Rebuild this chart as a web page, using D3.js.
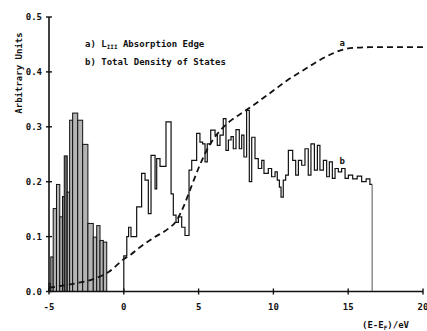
<!DOCTYPE html>
<html>
<head>
<meta charset="utf-8">
<script src="https://cdn.jsdelivr.net/npm/d3@7"></script>
<style>
  body { margin: 0; background: #fff; }
  text { font-family: "DejaVu Sans Mono", monospace; font-weight: bold; fill: #111; }
</style>
</head>
<body>
<div id="chart"></div>
<script>
// curve a: L_III absorption edge (dashed)
var edgeE = [-5, -4, -3, -2, -1, 0, 0.5, 1, 2, 3, 3.5, 4, 4.5, 5, 5.5, 6, 6.5, 7, 8, 9, 10, 11, 12, 13, 14, 14.7, 15.5, 16.5, 20];
var edgeV = [0.007, 0.011, 0.016, 0.023, 0.036, 0.059, 0.068, 0.079, 0.098, 0.115, 0.128, 0.155, 0.19, 0.225, 0.255, 0.278, 0.295, 0.308, 0.327, 0.346, 0.366, 0.386, 0.403, 0.42, 0.434, 0.441, 0.444, 0.445, 0.445];

// curve b, occupied part: filled bars (edges + heights)
var barEdges = [-5.0, -4.88, -4.72, -4.50, -4.28, -4.10, -3.98, -3.78, -3.62, -3.42, -3.08, -2.75, -2.40, -2.04, -1.81, -1.59, -1.37, -1.14];
var barHeights = [0.015, 0.063, 0.151, 0.195, 0.136, 0.173, 0.247, 0.181, 0.312, 0.325, 0.312, 0.268, 0.124, 0.099, 0.12, 0.093, 0.09];
var darkBar = 6;

// curve b, unoccupied part: step outline (step start energy + value)
var dosE = [0, 0.2, 0.32, 0.48, 0.86, 1.19, 1.42, 1.64, 1.82, 2.09, 2.20, 2.42, 2.82, 3.16, 3.31, 3.49, 3.65, 3.87, 4.09, 4.36, 4.54, 4.87, 5.09, 5.27, 5.43, 5.58, 5.81, 6.10, 6.25, 6.43, 6.65, 6.83, 6.99, 7.17, 7.32, 7.50, 7.72, 7.88, 8.03, 8.21, 8.39, 8.55, 8.77, 8.99, 9.22, 9.37, 9.66, 9.88, 10.11, 10.26, 10.40, 10.51, 10.66, 10.82, 11.0, 11.29, 11.49, 11.67, 11.89, 12.11, 12.33, 12.51, 12.74, 12.94, 13.11, 13.34, 13.56, 13.74, 13.94, 14.12, 14.34, 14.56, 14.79, 15.01, 15.3, 15.6, 15.9, 16.2, 16.45];
var dosV = [0.065, 0.10, 0.117, 0.10, 0.154, 0.215, 0.203, 0.142, 0.248, 0.187, 0.242, 0.228, 0.309, 0.178, 0.139, 0.126, 0.136, 0.117, 0.102, 0.221, 0.239, 0.288, 0.272, 0.269, 0.236, 0.269, 0.294, 0.285, 0.266, 0.285, 0.315, 0.257, 0.276, 0.282, 0.260, 0.295, 0.260, 0.285, 0.245, 0.330, 0.200, 0.281, 0.242, 0.224, 0.239, 0.215, 0.224, 0.209, 0.218, 0.203, 0.190, 0.172, 0.203, 0.212, 0.257, 0.239, 0.212, 0.239, 0.230, 0.260, 0.212, 0.269, 0.221, 0.266, 0.221, 0.239, 0.209, 0.236, 0.206, 0.224, 0.218, 0.224, 0.206, 0.212, 0.205, 0.21, 0.20, 0.205, 0.195];
var dosEnd = 16.6;

var xTicks = [-5, 0, 5, 10, 15, 20];
var yTicks = [0.0, 0.1, 0.2, 0.3, 0.4, 0.5];

var margin = {top: 17, right: 4, bottom: 39.5, left: 49},
    width = 427 - margin.left - margin.right,
    height = 331 - margin.top - margin.bottom;

var svg = d3.select("#chart")
    .append("svg")
    .attr("width", 427)
    .attr("height", 331)
    .append("g")
    .attr("transform", "translate(" + margin.left + "," + margin.top + ")");

var x = d3.scaleLinear().domain([-5, 20]).range([0, width]);
var y = d3.scaleLinear().domain([0, 0.5]).range([height, 0]);

// bars
var bars = barHeights.map(function (h, i) { return {x0: barEdges[i], x1: barEdges[i + 1], v: h, i: i}; });
svg.append("g")
    .selectAll("rect")
    .data(bars)
    .enter()
    .append("rect")
    .attr("x", function (d) { return x(d.x0); })
    .attr("y", function (d) { return y(d.v); })
    .attr("width", function (d) { return x(d.x1) - x(d.x0); })
    .attr("height", function (d) { return y(0) - y(d.v); })
    .style("fill", function (d) { return d.i === darkBar ? "#666" : "#b4b4b4"; })
    .style("stroke", "#111")
    .style("stroke-width", 1);

// step outline
var steps = [[0, 0]].concat(dosE.map(function (e, i) { return [e, dosV[i]]; }));
steps.push([dosEnd, dosV[dosV.length - 1]]);
svg.append("path")
    .datum(steps)
    .attr("d", d3.line().x(function (d) { return x(d[0]); }).y(function (d) { return y(d[1]); }).curve(d3.curveStepAfter))
    .style("fill", "none")
    .style("stroke", "#111")
    .style("stroke-width", 1.2);
svg.append("line")
    .attr("x1", x(dosEnd)).attr("x2", x(dosEnd))
    .attr("y1", y(dosV[dosV.length - 1])).attr("y2", y(0))
    .style("stroke", "#555")
    .style("stroke-width", 1);

// dashed edge curve
svg.append("path")
    .datum(edgeE.map(function (e, i) { return [e, edgeV[i]]; }))
    .attr("d", d3.line().x(function (d) { return x(d[0]); }).y(function (d) { return y(d[1]); }).curve(d3.curveMonotoneX))
    .style("fill", "none")
    .style("stroke", "#111")
    .style("stroke-width", 1.8)
    .style("stroke-dasharray", "6,4");

// axes
svg.append("line").attr("x1", 0).attr("x2", 0).attr("y1", y(0)).attr("y2", y(0.5))
    .style("stroke", "#111").style("stroke-width", 1.6);
svg.append("line").attr("x1", 0).attr("x2", width).attr("y1", y(0)).attr("y2", y(0))
    .style("stroke", "#111").style("stroke-width", 1.6);

svg.selectAll(".ytick").data(yTicks).enter().append("line")
    .attr("x1", -3).attr("x2", 3)
    .attr("y1", function (d) { return y(d); }).attr("y2", function (d) { return y(d); })
    .style("stroke", "#111").style("stroke-width", 1.4);
svg.selectAll(".ylab").data(yTicks).enter().append("text")
    .attr("x", -7)
    .attr("y", function (d) { return y(d) + 3; })
    .attr("text-anchor", "end")
    .attr("font-size", "9px")
    .text(function (d) { return d.toFixed(1); });

svg.selectAll(".xtick").data(xTicks).enter().append("line")
    .attr("x1", function (d) { return x(d); }).attr("x2", function (d) { return x(d); })
    .attr("y1", height - 3).attr("y2", height + 3)
    .style("stroke", "#111").style("stroke-width", 1.4);
svg.selectAll(".xlab").data(xTicks).enter().append("text")
    .attr("x", function (d) { return x(d); })
    .attr("y", height + 18)
    .attr("text-anchor", "middle")
    .attr("font-size", "9px")
    .text(function (d) { return d < 0 ? "-" + Math.abs(d) : d; });

// axis titles
svg.append("text")
    .attr("transform", "translate(-27," + (y(0.5) + 56) + ") rotate(-90)")
    .attr("text-anchor", "middle")
    .attr("font-size", "9px")
    .text("Arbitrary Units");

var xt = svg.append("text")
    .attr("x", width - 61)
    .attr("y", height + 36)
    .attr("font-size", "9px");
xt.append("tspan").text("(E-E");
xt.append("tspan").attr("font-size", "6px").attr("dy", 2).text("F");
xt.append("tspan").attr("dy", -2).text(")/eV");

// legend
var l1 = svg.append("text").attr("x", 36).attr("y", 29.5).attr("font-size", "9px");
l1.append("tspan").text("a) L");
l1.append("tspan").attr("font-size", "6px").attr("dy", 2).text("III");
l1.append("tspan").attr("dy", -2).text(" Absorption Edge");
svg.append("text").attr("x", 36).attr("y", 48).attr("font-size", "9px").text("b) Total Density of States");

// curve labels
svg.append("text").attr("x", x(14.6)).attr("y", y(0.447)).attr("text-anchor", "middle").attr("font-size", "9px").text("a");
svg.append("text").attr("x", x(14.6)).attr("y", y(0.233)).attr("text-anchor", "middle").attr("font-size", "9px").text("b");
</script>
</body>
</html>
